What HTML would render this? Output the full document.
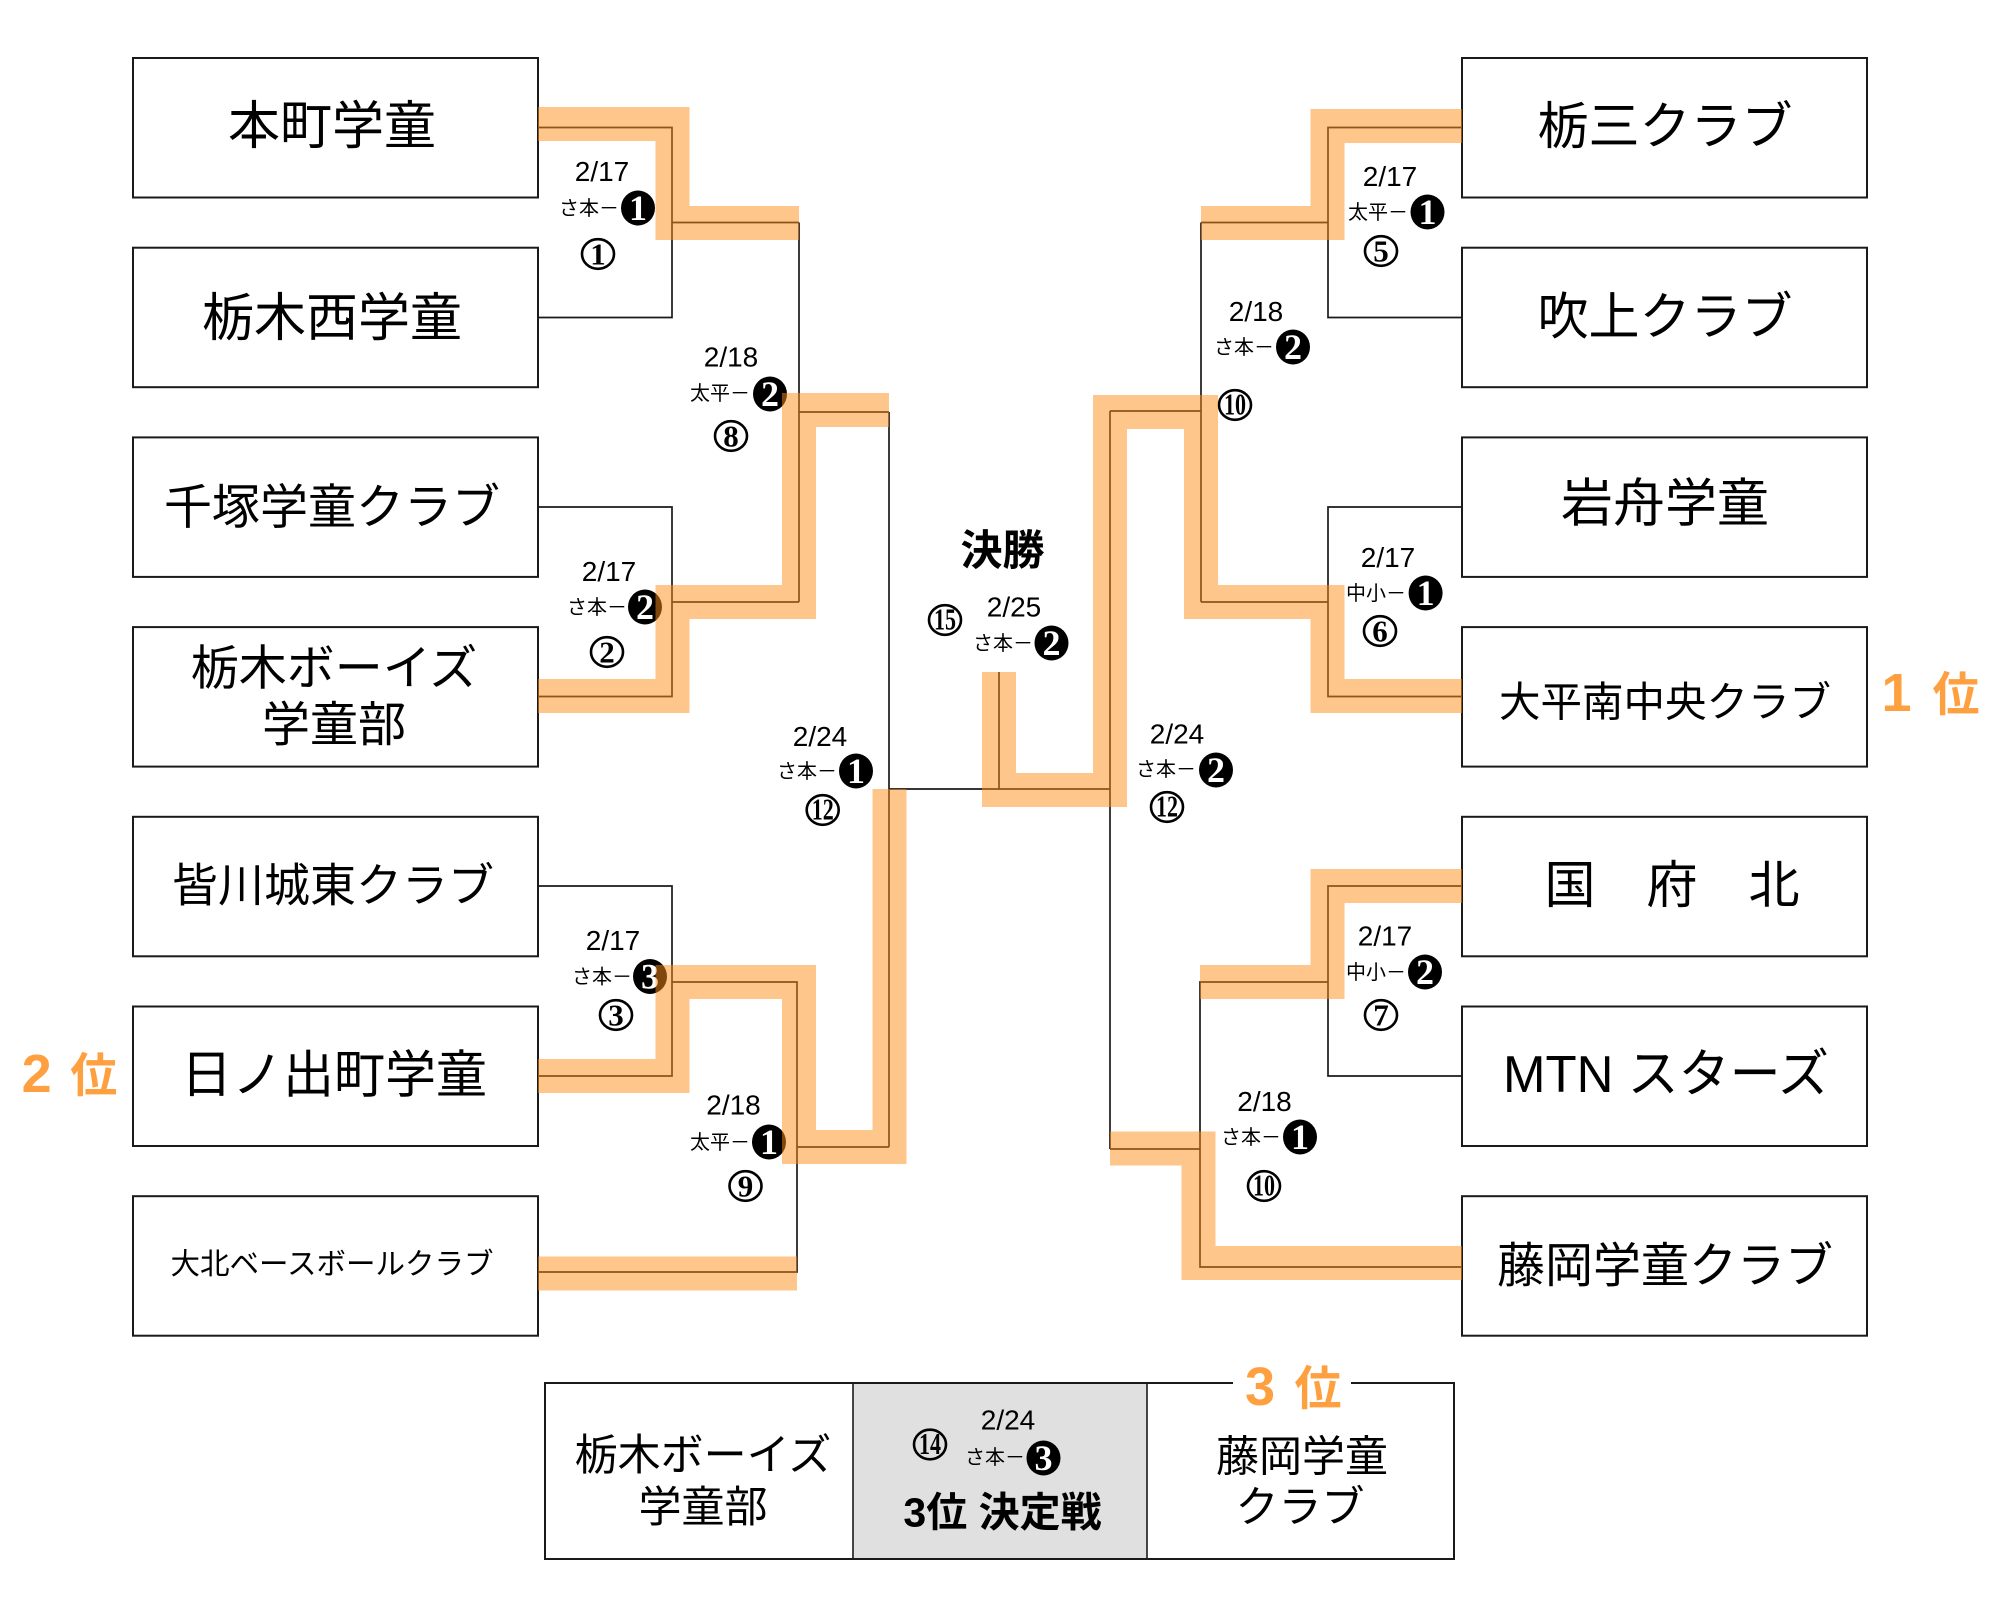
<!DOCTYPE html>
<html><head><meta charset="utf-8"><style>
html,body{margin:0;padding:0;background:#fff;}
svg{display:block;}
.t{font-family:"Liberation Sans","Noto Sans CJK JP",sans-serif;fill:#000;}
.b{font-weight:bold;}
.d{font-family:"Liberation Sans","Noto Sans CJK JP",sans-serif;font-size:28px;fill:#000;text-anchor:middle;}
.s{font-family:"Liberation Sans","Noto Sans CJK JP",sans-serif;font-size:20px;fill:#000;text-anchor:end;}
.wn{font-family:"Liberation Serif","Noto Serif CJK SC",serif;font-weight:bold;font-size:31px;fill:#000;text-anchor:middle;}
.bn{font-family:"Liberation Serif","Noto Serif CJK SC",serif;font-weight:bold;font-size:36px;fill:#fff;text-anchor:middle;}
.o{font-family:"Liberation Sans","Noto Sans CJK JP",sans-serif;font-weight:bold;fill:#FFA040;text-anchor:middle;}
</style></head><body>
<svg width="2000" height="1600" viewBox="0 0 2000 1600" xmlns="http://www.w3.org/2000/svg">
<rect x="0" y="0" width="2000" height="1600" fill="#fff"/>

<!-- connector lines -->
<g fill="none" stroke="#1a1a1a" stroke-width="1.7">
<path d="M538,127.5 H672 V317.5 H538"/>
<path d="M672,222.5 H799"/>
<path d="M538,507 H672 V696.5 H538"/>
<path d="M672,602 H799"/>
<path d="M799,222.5 V602"/>
<path d="M799,412 H889"/>
<path d="M538,886 H672 V1076 H538"/>
<path d="M672,982 H797 V1272 H538"/>
<path d="M797,1147 H889"/>
<path d="M889,412 V1147"/>
<path d="M889,789 H1110"/>
<path d="M999,672 V789"/>
<path d="M1462,127.5 H1328 V317.5 H1462"/>
<path d="M1328,222.5 H1201"/>
<path d="M1462,507 H1328 V696.5 H1462"/>
<path d="M1328,602 H1201"/>
<path d="M1201,222.5 V602"/>
<path d="M1201,411 H1110"/>
<path d="M1110,411 V1149"/>
<path d="M1462,886 H1328 V1076 H1462"/>
<path d="M1328,982 H1200 V1267 H1462"/>
<path d="M1200,1149 H1110"/>
</g>

<!-- team boxes -->
<g fill="#fff" stroke="#1a1a1a" stroke-width="2">
<rect x="133" y="58" width="405" height="139.5"/>
<rect x="133" y="247.7" width="405" height="139.5"/>
<rect x="133" y="437.4" width="405" height="139.5"/>
<rect x="133" y="627.1" width="405" height="139.5"/>
<rect x="133" y="816.8" width="405" height="139.5"/>
<rect x="133" y="1006.5" width="405" height="139.5"/>
<rect x="133" y="1196.2" width="405" height="139.5"/>
<rect x="1462" y="58" width="405" height="139.5"/>
<rect x="1462" y="247.7" width="405" height="139.5"/>
<rect x="1462" y="437.4" width="405" height="139.5"/>
<rect x="1462" y="627.1" width="405" height="139.5"/>
<rect x="1462" y="816.8" width="405" height="139.5"/>
<rect x="1462" y="1006.5" width="405" height="139.5"/>
<rect x="1462" y="1196.2" width="405" height="139.5"/>
</g>

<!-- team names -->
<g class="t" text-anchor="middle">
<text x="332" y="144" font-size="52">本町学童</text>
<text x="332" y="336" font-size="52">栃木西学童</text>
<text x="332" y="523.5" font-size="48">千塚学童クラブ</text>
<text x="334" y="684.5" font-size="48">栃木ボーイズ</text>
<text x="334" y="741" font-size="48">学童部</text>
<text x="333" y="901.6" font-size="46">皆川城東クラブ</text>
<text x="334" y="1092.5" font-size="51">日ノ出町学童</text>
<text x="332" y="1274" font-size="29.5">大北ベースボールクラブ</text>
<text x="1665" y="144" font-size="51">栃三クラブ</text>
<text x="1665" y="334.5" font-size="51">吹上クラブ</text>
<text x="1665" y="521.5" font-size="52">岩舟学童</text>
<text x="1665" y="716.5" font-size="41.5">大平南中央クラブ</text>
<text x="1672" y="903" font-size="51">国　府　北</text>
<text x="1666" y="1092" font-size="52" textLength="326" lengthAdjust="spacingAndGlyphs">MTN スターズ</text>
<text x="1665" y="1282" font-size="48">藤岡学童クラブ</text>
</g>

<!-- 3rd place box -->
<rect x="545" y="1383" width="909" height="176" fill="#fff" stroke="#1a1a1a" stroke-width="2"/>
<rect x="853" y="1384" width="294" height="174" fill="#e0e0e0"/>
<path d="M853,1383 V1559 M1147,1383 V1559" stroke="#1a1a1a" stroke-width="1.6"/>
<rect x="1233" y="1376" width="118" height="14" fill="#fff"/>
<g class="t" text-anchor="middle">
<text x="703" y="1470" font-size="43">栃木ボーイズ</text>
<text x="703" y="1522" font-size="43">学童部</text>
<text x="1302" y="1471.5" font-size="43">藤岡学童</text>
<text x="1300" y="1522" font-size="43">クラブ</text>
<text x="1002.5" y="1526.5" font-size="41" class="b">3位 決定戦</text>
<text x="1002.5" y="565" font-size="42" class="b">決勝</text>
</g>

<!-- rank labels -->
<text class="o" y="711"><tspan x="1896.5" font-size="54">1</tspan><tspan x="1956" font-size="47">位</tspan></text>
<text class="o" y="1092"><tspan x="36.7" font-size="54">2</tspan><tspan x="93.7" font-size="47">位</tspan></text>
<text class="o" y="1405"><tspan x="1260" font-size="54">3</tspan><tspan x="1318" font-size="47">位</tspan></text>

<!-- dates -->
<text class="d" x="602" y="181">2/17</text>
<text class="d" x="609" y="581">2/17</text>
<text class="d" x="613" y="950">2/17</text>
<text class="d" x="731" y="366.5">2/18</text>
<text class="d" x="733.5" y="1114.5">2/18</text>
<text class="d" x="820" y="746">2/24</text>
<text class="d" x="1014" y="616.5">2/25</text>
<text class="d" x="1177" y="743.5">2/24</text>
<text class="d" x="1390" y="186">2/17</text>
<text class="d" x="1256" y="321">2/18</text>
<text class="d" x="1388" y="567">2/17</text>
<text class="d" x="1385" y="945.5">2/17</text>
<text class="d" x="1264.5" y="1111">2/18</text>
<text class="d" x="1008" y="1429.5">2/24</text>

<!-- score prefixes -->
<text class="s" x="619" y="215">さ本－</text>
<text class="s" x="627" y="614">さ本－</text>
<text class="s" x="632" y="983.5">さ本－</text>
<text class="s" x="750" y="400">太平－</text>
<text class="s" x="750" y="1149">太平－</text>
<text class="s" x="837" y="778">さ本－</text>
<text class="s" x="1033" y="650">さ本－</text>
<text class="s" x="1196" y="776">さ本－</text>
<text class="s" x="1408" y="219">太平－</text>
<text class="s" x="1274" y="354">さ本－</text>
<text class="s" x="1406" y="600">中小－</text>
<text class="s" x="1406" y="979">中小－</text>
<text class="s" x="1281" y="1144">さ本－</text>
<text class="s" x="1025" y="1464">さ本－</text>

<!-- black score circles -->
<g fill="#000">
<ellipse cx="638" cy="208" rx="17" ry="17.5"/>
<ellipse cx="645" cy="607" rx="17" ry="17.5"/>
<ellipse cx="650" cy="976.5" rx="17" ry="17.5"/>
<ellipse cx="770" cy="394" rx="17" ry="17.5"/>
<ellipse cx="769" cy="1142" rx="17" ry="17.5"/>
<ellipse cx="856" cy="771" rx="17" ry="17.5"/>
<ellipse cx="1051.5" cy="643" rx="17" ry="17.5"/>
<ellipse cx="1216" cy="770" rx="17" ry="17.5"/>
<ellipse cx="1427.5" cy="212" rx="17" ry="17.5"/>
<ellipse cx="1293" cy="347" rx="17" ry="17.5"/>
<ellipse cx="1425.6" cy="593" rx="17" ry="17.5"/>
<ellipse cx="1425" cy="972" rx="17" ry="17.5"/>
<ellipse cx="1300" cy="1137" rx="17" ry="17.5"/>
<ellipse cx="1043.5" cy="1458" rx="17" ry="17.5"/>
</g>
<text class="bn" x="638" y="220">1</text>
<text class="bn" x="645" y="619">2</text>
<text class="bn" x="650" y="988.5">3</text>
<text class="bn" x="770" y="406">2</text>
<text class="bn" x="769" y="1154">1</text>
<text class="bn" x="856" y="783">1</text>
<text class="bn" x="1051.5" y="655">2</text>
<text class="bn" x="1216" y="782">2</text>
<text class="bn" x="1427.5" y="224">1</text>
<text class="bn" x="1293" y="359">2</text>
<text class="bn" x="1425.6" y="605">1</text>
<text class="bn" x="1425" y="984">2</text>
<text class="bn" x="1300" y="1149">1</text>
<text class="bn" x="1043.5" y="1470">3</text>

<!-- match number circles -->
<g fill="none" stroke="#000" stroke-width="2.6">
<ellipse cx="598" cy="254" rx="16" ry="14.8"/>
<ellipse cx="607" cy="652" rx="16" ry="14.8"/>
<ellipse cx="616" cy="1015" rx="16" ry="14.8"/>
<ellipse cx="731" cy="436" rx="16" ry="14.8"/>
<ellipse cx="745.5" cy="1186" rx="16" ry="14.8"/>
<ellipse cx="822.7" cy="810" rx="16" ry="14.8"/>
<ellipse cx="945" cy="620" rx="16" ry="14.8"/>
<ellipse cx="1167" cy="807" rx="16" ry="14.8"/>
<ellipse cx="1381" cy="251" rx="16" ry="14.8"/>
<ellipse cx="1235" cy="405" rx="16" ry="14.8"/>
<ellipse cx="1380" cy="631" rx="16" ry="14.8"/>
<ellipse cx="1381" cy="1015" rx="16" ry="14.8"/>
<ellipse cx="1264" cy="1186" rx="16" ry="14.8"/>
<ellipse cx="930" cy="1444.5" rx="16" ry="14.8"/>
</g>
<text class="wn" x="598" y="264.5">1</text>
<text class="wn" x="607" y="662.5">2</text>
<text class="wn" x="616" y="1025.5">3</text>
<text class="wn" x="731" y="446.5">8</text>
<text class="wn" x="745.5" y="1196.5">9</text>
<text class="wn" x="822.7" y="819.5" font-size="28" textLength="22" lengthAdjust="spacingAndGlyphs">12</text>
<text class="wn" x="945" y="629.5" font-size="28" textLength="22" lengthAdjust="spacingAndGlyphs">15</text>
<text class="wn" x="1167" y="816.5" font-size="28" textLength="22" lengthAdjust="spacingAndGlyphs">12</text>
<text class="wn" x="1381" y="261.5">5</text>
<text class="wn" x="1235" y="414.5" font-size="28" textLength="22" lengthAdjust="spacingAndGlyphs">10</text>
<text class="wn" x="1380" y="641.5">6</text>
<text class="wn" x="1381" y="1025.5">7</text>
<text class="wn" x="1264" y="1195.5" font-size="28" textLength="22" lengthAdjust="spacingAndGlyphs">10</text>
<text class="wn" x="930" y="1454" font-size="28" textLength="22" lengthAdjust="spacingAndGlyphs">14</text>

<!-- orange winner bands (semi-transparent over lines) -->
<g fill="none" stroke="rgb(255,141,26)" stroke-opacity="0.5" stroke-width="34" stroke-linejoin="miter" stroke-linecap="butt">
<path d="M538,124 H672.5 V223 H799"/>
<path d="M538,696 H672.5 V602 H799 V410 H889"/>
<path d="M538,1076 H672.5 V982 H799 V1147 H889.5 V789"/>
<path d="M538,1273.5 H797"/>
<path d="M1462,126 H1327.5 V223 H1201"/>
<path d="M1462,696 H1327.5 V602 H1201 V412 H1110 V790 H999 V672"/>
<path d="M1462,886 H1327.5 V982 H1200"/>
<path d="M1462,1263 H1198.5 V1148.5 H1110"/>
</g>
</svg>
</body></html>
